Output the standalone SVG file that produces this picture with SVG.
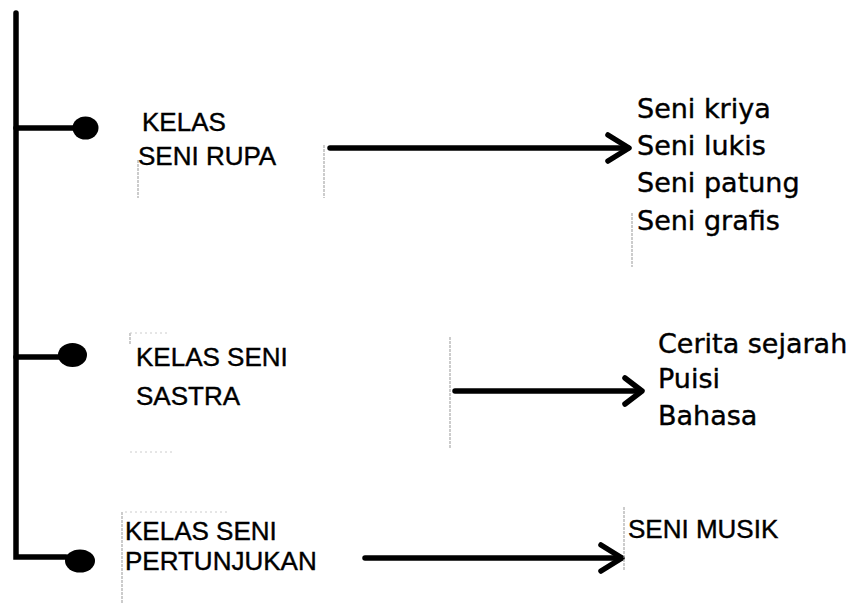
<svg xmlns="http://www.w3.org/2000/svg" width="861" height="604" viewBox="0 0 861 604">
<style>
.bar{stroke:#000;stroke-width:5.5;fill:none;stroke-linecap:round}
.arr{stroke:#000;stroke-width:5.5;fill:none;stroke-linecap:round;stroke-linejoin:round}
.edge{stroke:#999;stroke-width:1;fill:none;stroke-dasharray:3 1}
.faint{stroke:#ccc;stroke-width:1;fill:none;stroke-dasharray:2 3}
.cap{font-family:"Liberation Sans",Arial,sans-serif;font-size:26px;fill:#000;stroke:#000;stroke-width:0.4}
.low{font-family:"DejaVu Sans",sans-serif;font-size:27px;fill:#000;stroke:#000;stroke-width:0.4}
</style>
<rect width="861" height="604" fill="#fff"/>
<g id="connectors">
  <path class="bar" d="M16,13 V557 H66"/>
  <path class="bar" d="M16,128 H74"/>
  <path class="bar" d="M16,357 H60"/>
  <ellipse cx="85.5" cy="128" rx="13" ry="11.5" fill="#000"/>
  <ellipse cx="72.5" cy="355" rx="14.5" ry="12" fill="#000"/>
  <ellipse cx="80" cy="561" rx="15" ry="11.5" fill="#000"/>
  <path class="arr" d="M330,148 H628"/>
  <path class="arr" d="M608,135 L629,148 L608,161"/>
  <path class="arr" d="M455,391 H640"/>
  <path class="arr" d="M625,378 L642,391 L625,404"/>
  <path class="arr" d="M365,558 H621"/>
  <path class="arr" d="M601,545 L622,558 L601,571"/>
</g>
<g id="edges">
  <path class="edge" d="M138,160 V198"/>
  <path class="edge" d="M324,145 V198"/>
  <path class="edge" d="M632,213 V267"/>
  <path class="edge" d="M450,337 V448"/>
  <path class="edge" d="M624,507 V570"/>
  <path class="edge" d="M122,512 V604"/>
  <path class="edge" d="M130,333 V345"/>
  <path class="faint" d="M130,333 H168"/>
  <path class="faint" d="M130,452 H172"/>
  <path class="faint" d="M125,512 H228"/>
</g>
<g id="node-rupa">
  <text class="cap" x="142" y="131">KELAS</text>
  <text class="cap" x="138" y="165">SENI RUPA</text>
</g>
<g id="list-rupa">
  <text class="low" x="637" y="118">Seni kriya</text>
  <text class="low" x="637" y="155">Seni lukis</text>
  <text class="low" x="637" y="192">Seni patung</text>
  <text class="low" x="637" y="230">Seni grafis</text>
</g>
<g id="node-sastra">
  <text class="cap" x="136" y="366">KELAS SENI</text>
  <text class="cap" x="136" y="405">SASTRA</text>
</g>
<g id="list-sastra">
  <text class="low" x="658" y="353">Cerita sejarah</text>
  <text class="low" x="658" y="388">Puisi</text>
  <text class="low" x="658" y="425">Bahasa</text>
</g>
<g id="node-pertunjukan">
  <text class="cap" x="125" y="540">KELAS SENI</text>
  <text class="cap" x="125" y="570">PERTUNJUKAN</text>
</g>
<g id="list-pertunjukan">
  <text class="cap" x="628" y="538">SENI MUSIK</text>
</g>
</svg>
